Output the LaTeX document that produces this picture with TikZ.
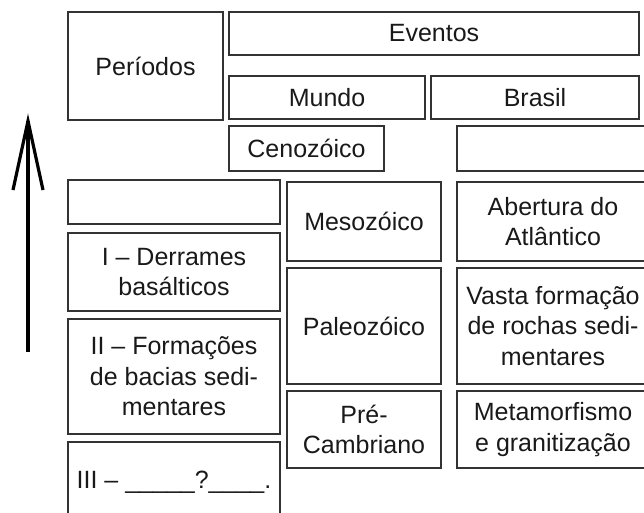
\documentclass[tikz,border=0pt]{standalone}
\usepackage{fontspec}
\setmainfont{Liberation Sans}
\usetikzlibrary{calc}
\begin{document}
\begin{tikzpicture}[x=1pt,y=-1pt,
  box/.style={draw=black!80, line width=1.2pt, inner sep=0pt, align=center,
    font=\fontsize{25}{30.5}\selectfont, text=black!90},
  arrowline/.style={line width=3.2pt, black, line join=miter}]
\useasboundingbox (0,0) rectangle (644,513);
\clip (0,0) rectangle (644,513);
% header
\node[box, minimum width=155pt, minimum height=108pt] (per) at (145.5,66) {Períodos};
\node[box, minimum width=410pt, minimum height=43pt] (evt) at (434,33.5) {Eventos};
\node[box, minimum width=196pt, minimum height=43pt] (mun) at (327,97.5) {Mundo};
\node[box, minimum width=208pt, minimum height=43pt] (bra) at (535,97.5) {Brasil};
% middle column
\node[box, minimum width=155pt, minimum height=45pt] (cen) at (306.5,148.5) {Cenozóico};
\node[box, minimum width=154pt, minimum height=79pt] (meso) at (364,221.5) {Mesozóico};
\node[box, minimum width=154pt, minimum height=116pt] (pal) at (364,326) {Paleozóico};
\node[box, minimum width=154pt, minimum height=77pt] (pre) at (364,429.5) {Pré-\\Cambriano};
% right column
\node[box, minimum width=192pt, minimum height=45pt] (br0) at (553,148.5) {};
\node[box, minimum width=192pt, minimum height=79pt] (abe) at (553,221.5) {Abertura do\\Atlântico};
\node[box, minimum width=192pt, minimum height=116pt] (vas) at (553,326) {Vasta formação\\de rochas sedi-\\mentares};
\node[box, minimum width=192pt, minimum height=77pt] (met) at (553,429.5) {Metamorfismo\\e granitização};
% left column
\node[box, minimum width=212pt, minimum height=44pt] (l0) at (174,202) {};
\node[box, minimum width=212pt, minimum height=78pt] (l1) at (174,272) {I – Derrames\\basálticos};
\node[box, minimum width=212pt, minimum height=115pt] (l2) at (174,376.5) {II – Formações\\de bacias sedi-\\mentares};
\node[box, minimum width=212pt, minimum height=83pt] (l3) at (174,483.5) {};
\node[font=\fontsize{25}{30.5}\selectfont, text=black!90, inner sep=0pt, anchor=base] (l3t) at (174,488) {III – \_\_\_\_\_?\_\_\_\_.};
% arrow
\coordinate (tail) at (28,352);
\coordinate (head) at (28,121);
\draw[arrowline] (tail) -- (head);
\draw[arrowline] ($(head)+(-15,69)$) -- (head) -- ($(head)+(15,69)$);
\end{tikzpicture}
\end{document}
